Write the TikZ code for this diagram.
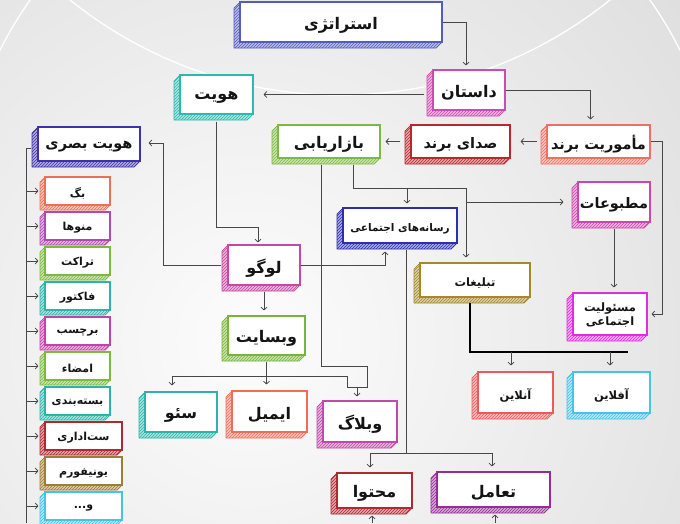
\documentclass[tikz,border=0pt]{standalone}
\usepackage{fontspec}
\setmainfont{DejaVu Sans}
\newfontfamily\fa[Script=Arabic]{DejaVu Sans}
\TeXXeTstate=1
\usetikzlibrary{arrows.meta,patterns}
\definecolor{cStrat}{RGB}{84,92,190}
\definecolor{cDastan}{RGB}{205,75,175}
\definecolor{cHoviat}{RGB}{45,185,175}
\definecolor{cMamor}{RGB}{238,112,100}
\definecolor{cSeda}{RGB}{185,38,45}
\definecolor{cBazar}{RGB}{125,185,65}
\definecolor{cHB}{RGB}{62,50,170}
\definecolor{cMatb}{RGB}{205,70,175}
\definecolor{cRas}{RGB}{45,45,175}
\definecolor{cLogo}{RGB}{200,70,165}
\definecolor{cTab}{RGB}{165,135,45}
\definecolor{cMas}{RGB}{225,45,225}
\definecolor{cWeb}{RGB}{120,180,60}
\definecolor{cOn}{RGB}{238,90,90}
\definecolor{cOff}{RGB}{70,195,230}
\definecolor{cSeo}{RGB}{45,180,170}
\definecolor{cEmail}{RGB}{238,110,90}
\definecolor{cWeblog}{RGB}{190,75,170}
\definecolor{cMoh}{RGB}{175,40,50}
\definecolor{cTaa}{RGB}{150,45,150}
\definecolor{cPurp}{RGB}{175,75,175}
\definecolor{cMag}{RGB}{195,65,170}
\definecolor{cBrown}{RGB}{160,125,55}
\definecolor{txt}{RGB}{20,20,20}
\newcommand\Lg{\fontsize{16}{19}\selectfont}
\newcommand\Mg{\fontsize{14.5}{17}\selectfont}
\newcommand\Md{\fontsize{10.5}{14.5}\selectfont}
\newcommand\Mdb{\fontsize{11.5}{15}\selectfont}
\newcommand\Sm{\fontsize{11}{13}\selectfont}
\def\tlift{-3pt}
\newcommand{\tdbox}[8][6]{%
  \fill[#3!40] (#4,#5) -- ++(-#1,#1) -- ({#4-#1},{#7+#1}) -- ({#6-#1},{#7+#1}) -- (#6,#7) -- (#4,#7) -- cycle;
  \fill[pattern=north east lines, pattern color=#3] (#4,#5) -- ++(-#1,#1) -- ({#4-#1},{#7+#1}) -- ({#6-#1},{#7+#1}) -- (#6,#7) -- (#4,#7) -- cycle;
  \draw[#3, line width=0.7pt, line join=round] (#4,#5) -- ++(-#1,#1) -- ({#4-#1},{#7+#1}) -- ({#6-#1},{#7+#1}) -- (#6,#7);
  \node[facebox, draw=#3, minimum width={(#6-#4)*1pt}, minimum height={(#7-#5)*1pt}] (#2) at ({(#4+#6)/2},{(#5+#7)/2}) {\raisebox{\tlift}[\height][\depth]{#8}};
}
\begin{document}
\begin{tikzpicture}[x=1pt,y=-1pt,
  facebox/.style={fill=white, line width=1.1pt, inner sep=0pt, text=txt, font=\fa\bfseries},
  conn/.style={draw=black!72, line width=0.75pt},
  arr/.style={conn, -{Straight Barb[length=2.8pt,width=6pt]}},
  heavyconn/.style={draw=black, line width=1.6pt}]
\useasboundingbox (0,0) rectangle (680,523);
\begin{scope}
  \clip (0,0) rectangle (680,523);
  \shade[inner color=gray!2, outer color=gray!40] (250,340) circle (900);
  \draw[white, line width=1.3pt] (340,-336) circle (431);
  \clip (0,0) rectangle (680,60);
  \draw[white, line width=1.3pt] (340,220) circle (380);
\end{scope}

\tdbox{strat}{cStrat}{240}{2}{442}{42}{\Lg\beginR استراتژی\endR}
\tdbox{dastan}{cDastan}{433}{70}{505}{110}{\Lg\beginR داستان\endR}
\tdbox{hoviat}{cHoviat}{180}{75}{253}{114}{\Lg\beginR هویت\endR}
\tdbox{mamoriat}{cMamor}{547}{125}{650}{158}{\Mg\beginR مأموریت برند\endR}
\tdbox{seda}{cSeda}{411}{125}{510}{158}{\Mg\beginR صدای برند\endR}
\tdbox{bazar}{cBazar}{278}{125}{380}{158}{\Lg\beginR بازاریابی\endR}
\tdbox{hbasari}{cHB}{38}{127}{140}{161}{\Mg\beginR هویت بصری\endR}
\tdbox{matbuat}{cMatb}{578}{182}{650}{222}{\Mg\beginR مطبوعات\endR}
\tdbox{rasane}{cRas}{343}{208}{457}{243}{\Md\beginR رسانه‌های اجتماعی\endR}
\tdbox{logo}{cLogo}{228}{245}{300}{285}{\Lg\beginR لوگو\endR}
\tdbox{tabligh}{cTab}{420}{263}{530}{297}{\Mdb\beginR تبلیغات\endR}
\def\tlift{-1pt}
\tdbox{masoliat}{cMas}{573}{293}{647}{335}{\Mdb\begin{tabular}{@{}c@{}}\beginR مسئولیت\endR\\[-1pt]\beginR اجتماعی\endR\end{tabular}}
\def\tlift{-3pt}
\tdbox{website}{cWeb}{228}{316}{305}{355}{\Lg\beginR وبسایت\endR}
\tdbox{online}{cOn}{478}{372}{553}{413}{\Mdb\beginR آنلاین\endR}
\tdbox{offline}{cOff}{573}{372}{650}{413}{\Mdb\beginR آفلاین\endR}
\tdbox{seo}{cSeo}{145}{392}{217}{432}{\Lg\beginR سئو\endR}
\tdbox{email}{cEmail}{232}{391}{307}{432}{\Lg\beginR ایمیل\endR}
\tdbox{weblog}{cWeblog}{323}{401}{397}{442}{\Lg\beginR وبلاگ\endR}
\tdbox{mohtava}{cMoh}{337}{473}{412}{508}{\Lg\beginR محتوا\endR}
\tdbox{taamol}{cTaa}{437}{472}{550}{507}{\Lg\beginR تعامل\endR}

\def\tlift{-2pt}
\tdbox[5]{l1}{cEmail}{45}{177}{110}{205}{\Sm\beginR بگ\endR}
\tdbox[5]{l2}{cPurp}{45}{212}{110}{240}{\Sm\beginR منوها\endR}
\tdbox[5]{l3}{cBazar}{45}{247}{110}{275}{\Sm\beginR تراکت\endR}
\tdbox[5]{l4}{cSeo}{45}{282}{110}{310}{\Sm\beginR فاکتور\endR}
\tdbox[5]{l5}{cMag}{45}{317}{110}{345}{\Sm\beginR برچسب\endR}
\tdbox[5]{l6}{cBazar}{45}{352}{110}{380}{\Sm\beginR امضاء\endR}
\tdbox[5]{l7}{cSeo}{45}{387}{110}{415}{\Sm\beginR بسته‌بندی\endR}
\tdbox[5]{l8}{cMoh}{45}{422}{122}{450}{\Sm\beginR ست‌اداری\endR}
\tdbox[5]{l9}{cBrown}{45}{457}{122}{485}{\Sm\beginR یونیفورم\endR}
\tdbox[5]{l10}{cOff}{45}{492}{122}{520}{\Sm\beginR و\kern0pt...\endR}

% strategy / story
\draw[arr] (strat.east) -| ([xshift=-3pt,yshift=4pt]dastan.north);
\draw[arr] ([xshift=-8pt]dastan.west |- hoviat.east) -- ([xshift=10pt]hoviat.east);
\draw[arr] (dastan.east) -| ([xshift=-8pt,yshift=5pt]mamoriat.north);
\draw[arr] ([xshift=-9pt]mamoriat.west) -- ([xshift=10pt]seda.east);
\draw[arr] ([xshift=-10pt]seda.west) -- ([xshift=5pt]bazar.east);
\draw[arr] (mamoriat.east) -- ++(12pt,0pt) |- ([xshift=4pt]masoliat.east);
\draw[arr] ([yshift=-6pt]matbuat.south) -- ([yshift=5pt]matbuat.south |- masoliat.north);

% marketing branches
\coordinate (bj) at (466,188);
\draw[conn] ([xshift=24pt,yshift=-6pt]bazar.south) |- (bj);
\draw[arr] (bj) -- ([xshift=-9pt,yshift=5pt]tabligh.north);
\draw[arr] ([xshift=7pt]rasane.north |- bj) -- ([xshift=7pt,yshift=4pt]rasane.north);
\draw[arr] (bj |- matbuat.west) -- ([xshift=-14pt]matbuat.west);

% marketing / website -> blog etc.
\coordinate (wl) at (172,376);
\coordinate (wr) at (347,376);
\coordinate (wa) at (347,387);
\coordinate (wb) at (367,387);
\coordinate (wc) at (367,366);
\coordinate (wd) at (321,366);
\coordinate (wm) at (357,387);
\draw[conn] ([xshift=-8pt,yshift=-6pt]bazar.south) -- (wd) -- (wc) -- (wb) -- (wa) -- (wr) -- (wl);
\draw[conn] ([yshift=-6pt]website.south) -- (website.south |- wl);
\draw[arr] (wl) -- ([xshift=-9pt,yshift=6pt]seo.north);
\draw[arr] (website.south |- wl) -- ([yshift=6pt]website.south |- email.north);
\draw[arr] (wm) -- ([xshift=-3pt,yshift=4pt]weblog.north);

% identity -> logo
\coordinate (hl) at (258,227);
\draw[arr] ([yshift=-7pt]hoviat.south) |- (hl) -- ([xshift=-6pt,yshift=2pt]logo.north);
\coordinate (hv) at (163,143);
\draw[arr] ([xshift=-6pt]logo.west) -| (hv) -- ([xshift=8pt]hbasari.east |- hv);
\draw[arr] (logo.east) -| ([xshift=-15pt,yshift=-8pt]rasane.south);
\draw[arr] ([yshift=-6pt]logo.south) -- ([yshift=5pt]logo.south |- website.north);

% social media -> content / engagement
\coordinate (rj) at (406,453);
\coordinate (rl) at (370,453);
\coordinate (rr) at (492,453);
\draw[conn] ([xshift=6pt,yshift=-6pt]rasane.south) -- (rj);
\draw[conn] (rl) -- (rr);
\draw[arr] (rl) -- ([xshift=-4.5pt,yshift=5pt]mohtava.north);
\draw[arr] (rr) -- ([xshift=-1.5pt,yshift=5pt]taamol.north);

% ads -> online / offline
\coordinate (tj) at (470,352);
\coordinate (tr) at (628,352);
\draw[heavyconn] ([xshift=-5pt,yshift=-5pt]tabligh.south) -- (tj) -- (tr);
\draw[arr] ([xshift=-4.5pt]online.north |- tj) -- ([xshift=-4.5pt,yshift=6pt]online.north);
\draw[arr] ([xshift=-1.5pt]offline.north |- tj) -- ([xshift=-1.5pt,yshift=6pt]offline.north);

% arrows from below
\coordinate (mb) at (372,523);
\coordinate (tb) at (495,523);
\draw[arr] (mb) -- ([xshift=-2.5pt,yshift=-7pt]mohtava.south);
\draw[arr] (tb) -- ([xshift=1.5pt,yshift=-7pt]taamol.south);

% visual identity list
\coordinate (lt) at (26,148);
\coordinate (lb) at (26,523);
\draw[conn] ([xshift=-6pt]hbasari.west |- lt) -- (lt) -- (lb);
\foreach \n in {l1,l2,l3,l4,l5,l6,l7,l8,l9,l10}
  \draw[arr] (lt |- \n.west) -- ([xshift=-6pt]\n.west);
\end{tikzpicture}
\end{document}
